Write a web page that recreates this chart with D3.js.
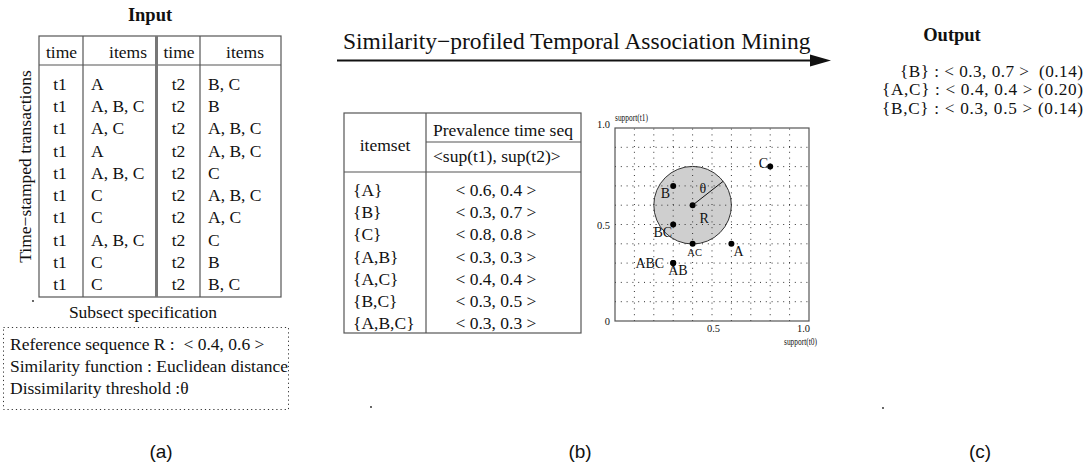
<!DOCTYPE html>
<html>
<head>
<meta charset="utf-8">
<script src="https://cdn.jsdelivr.net/npm/d3@7"></script>
<style>
  body { margin: 0; background: #fff; }
  svg text { font-family: "Liberation Serif", "Times New Roman", serif; fill: #111; white-space: pre; }
</style>
</head>
<body>
<div id="chart"></div>
<script>
// ---- data ----
var timeLabels = ["t1", "t2"];
var t1Items = ["A", "A, B, C", "A, C", "A", "A, B, C", "C", "C", "A, B, C", "C", "C"];
var t2Items = ["B, C", "B", "A, B, C", "A, B, C", "C", "A, B, C", "A, C", "C", "B", "B, C"];

var itemsets = ["{A}", "{B}", "{C}", "{A,B}", "{A,C}", "{B,C}", "{A,B,C}"];
var pointNames = ["A", "B", "C", "AB", "AC", "BC", "ABC"];
var supT1 = [0.6, 0.3, 0.8, 0.3, 0.4, 0.3, 0.3];
var supT2 = [0.4, 0.7, 0.8, 0.3, 0.4, 0.5, 0.3];

var refSeq = [0.4, 0.6];
var threshold = 0.2;

var outSets = ["{B}", "{A,C}", "{B,C}"];
var outSeq = ["< 0.3, 0.7 > ", "< 0.4, 0.4 >", "< 0.3, 0.5 >"];
var outDist = ["(0.14)", "(0.20)", "(0.14)"];

var gridTicks = [0.1, 0.2, 0.3, 0.4, 0.5, 0.6, 0.7, 0.8, 0.9];
var axisTicks = [0, 0.5, 1];
var axisTickLabels = ["0", "0.5", "1.0"];

var specLines = ["Reference sequence R :  < 0.4, 0.6 >",
                 "Similarity function : Euclidean distance",
                 "Dissimilarity threshold :\u03b8"];
var panelLabels = ["(a)", "(b)", "(c)"];

// ---- layout ----
var W = 1084, H = 466;
var svg = d3.select("#chart").append("svg")
    .attr("width", W).attr("height", H);
svg.append("rect").attr("width", W).attr("height", H).attr("fill", "#fff");

var lineCol = "#555";

// ===== (a) Input =====
svg.append("text").attr("x", 150).attr("y", 21)
  .attr("text-anchor", "middle").attr("font-size", 18.5).attr("font-weight", "bold")
  .text("Input");

var ta = { left: 39, right: 281, top: 36, head: 65, bottom: 297 };
var rowY = d3.scaleLinear().domain([0, t1Items.length - 1]).range([90, 290]);

var ga = svg.append("g");
ga.append("rect").attr("x", ta.left).attr("y", ta.top)
  .attr("width", ta.right - ta.left).attr("height", ta.bottom - ta.top)
  .attr("fill", "none").attr("stroke", lineCol).attr("stroke-width", 1.2);
ga.append("line").attr("x1", ta.left).attr("x2", ta.right).attr("y1", ta.head).attr("y2", ta.head)
  .attr("stroke", lineCol).attr("stroke-width", 1.2);
[83, 200].forEach(function(x) {
  ga.append("line").attr("x1", x).attr("x2", x).attr("y1", ta.top).attr("y2", ta.bottom)
    .attr("stroke", lineCol).attr("stroke-width", 1.2);
});
ga.append("line").attr("x1", 156.5).attr("x2", 156.5).attr("y1", ta.top).attr("y2", ta.bottom)
  .attr("stroke", "#777").attr("stroke-width", 3);

// headers
[[61.5, "time"], [128, "items"], [179, "time"], [245, "items"]].forEach(function(h) {
  ga.append("text").attr("x", h[0]).attr("y", 58).attr("text-anchor", "middle")
    .attr("font-size", 17.5).text(h[1]);
});

t1Items.forEach(function(it, i) {
  ga.append("text").attr("x", 60).attr("y", rowY(i)).attr("text-anchor", "middle")
    .attr("font-size", 17.5).text(timeLabels[0]);
  ga.append("text").attr("x", 91).attr("y", rowY(i)).attr("font-size", 17.5).text(it);
});
t2Items.forEach(function(it, i) {
  ga.append("text").attr("x", 178.5).attr("y", rowY(i)).attr("text-anchor", "middle")
    .attr("font-size", 17.5).text(timeLabels[1]);
  ga.append("text").attr("x", 208).attr("y", rowY(i)).attr("font-size", 17.5).text(it);
});

svg.append("text").attr("transform", "translate(31,166.5) rotate(-90)")
  .attr("text-anchor", "middle").attr("font-size", 17.5)
  .text("Time\u2212stamped transactions");

svg.append("circle").attr("cx", 33).attr("cy", 301).attr("r", 0.9).attr("fill", "#222");

svg.append("text").attr("x", 143).attr("y", 318).attr("text-anchor", "middle")
  .attr("font-size", 17.5).text("Subsect specification");

svg.append("rect").attr("x", 3.5).attr("y", 327.5).attr("width", 285).attr("height", 82)
  .attr("fill", "none").attr("stroke", "#333").attr("stroke-width", 1)
  .attr("stroke-dasharray", "1.2,3");
specLines.forEach(function(s, i) {
  svg.append("text").attr("x", 10).attr("y", 350 + i * 22.2).attr("font-size", 17.5).text(s);
});

// ===== (b) mining arrow =====
svg.append("text").attr("x", 343).attr("y", 49).attr("font-size", 23.5)
  .text("Similarity\u2212profiled Temporal Association Mining");
svg.append("line").attr("x1", 337).attr("x2", 814).attr("y1", 60.5).attr("y2", 60.5)
  .attr("stroke", "#111").attr("stroke-width", 2);
svg.append("path").attr("d", "M810,54.5 L831,60.5 L810,66.5 Z").attr("fill", "#111");

// itemset table
var tb = { left: 344, mid: 426, right: 581, top: 113, sub: 142, head: 172, bottom: 333 };
var gb = svg.append("g");
gb.append("rect").attr("x", tb.left).attr("y", tb.top)
  .attr("width", tb.right - tb.left).attr("height", tb.bottom - tb.top)
  .attr("fill", "none").attr("stroke", lineCol).attr("stroke-width", 1.2);
gb.append("line").attr("x1", tb.mid).attr("x2", tb.mid).attr("y1", tb.top).attr("y2", tb.bottom)
  .attr("stroke", lineCol).attr("stroke-width", 1.2);
gb.append("line").attr("x1", tb.mid).attr("x2", tb.right).attr("y1", tb.sub).attr("y2", tb.sub)
  .attr("stroke", lineCol).attr("stroke-width", 1.2);
gb.append("line").attr("x1", tb.left).attr("x2", tb.right).attr("y1", tb.head).attr("y2", tb.head)
  .attr("stroke", lineCol).attr("stroke-width", 1.2);
gb.append("text").attr("x", 385).attr("y", 151).attr("text-anchor", "middle")
  .attr("font-size", 17.5).text("itemset");
gb.append("text").attr("x", 433).attr("y", 136).attr("font-size", 17.5).text("Prevalence time seq");
gb.append("text").attr("x", 433).attr("y", 162).attr("font-size", 17.5).text("<sup(t1), sup(t2)>");

var rowB = d3.scaleLinear().domain([0, itemsets.length - 1]).range([196, 329]);
itemsets.forEach(function(s, i) {
  gb.append("text").attr("x", 353).attr("y", rowB(i)).attr("font-size", 17.5).text(s);
  gb.append("text").attr("x", 496).attr("y", rowB(i)).attr("text-anchor", "middle")
    .attr("font-size", 17.5).text("< " + supT1[i].toFixed(1) + ", " + supT2[i].toFixed(1) + " >");
});

svg.append("circle").attr("cx", 371).attr("cy", 407).attr("r", 0.9).attr("fill", "#222");

// scatter of support sequences
var x = d3.scaleLinear().domain([0, 1]).range([615, 809]);
var y = d3.scaleLinear().domain([0, 1]).range([321, 128]);
var gs = svg.append("g");

var rPix = x(threshold) - x(0);
gs.append("circle").attr("cx", x(refSeq[0])).attr("cy", y(refSeq[1])).attr("r", rPix)
  .attr("fill", "#cfcfcf").attr("stroke", "#333").attr("stroke-width", 1);

gridTicks.forEach(function(t) {
  gs.append("line").attr("x1", x(0)).attr("x2", x(1)).attr("y1", y(t)).attr("y2", y(t))
    .attr("stroke", "#333").attr("stroke-width", 1).attr("stroke-dasharray", "1,4.8");
  gs.append("line").attr("y1", y(0)).attr("y2", y(1)).attr("x1", x(t)).attr("x2", x(t))
    .attr("stroke", "#333").attr("stroke-width", 1).attr("stroke-dasharray", "1,4.8");
});
gs.append("rect").attr("x", x(0)).attr("y", y(1)).attr("width", x(1) - x(0)).attr("height", y(0) - y(1))
  .attr("fill", "none").attr("stroke", "#555").attr("stroke-width", 1.2);

// axis labels
var yTickDy = [4, 4.5, 0];
axisTicks.forEach(function(t, i) {
  gs.append("text").attr("x", 610).attr("y", y(t) + yTickDy[i]).attr("text-anchor", "end")
    .attr("font-size", 10.5).text(axisTickLabels[i]);
});
var xTickDx = [0, 1.5, -5.5];
axisTicks.slice(1).forEach(function(t, i) {
  gs.append("text").attr("x", x(t) + xTickDx[i + 1]).attr("y", 332).attr("text-anchor", "middle")
    .attr("font-size", 10.5).text(axisTickLabels[i + 1]);
});
gs.append("text").attr("x", 615).attr("y", 121).attr("font-size", 11)
  .attr("textLength", 33).attr("lengthAdjust", "spacingAndGlyphs").text("support(t1)");
gs.append("text").attr("x", 784).attr("y", 345).attr("font-size", 11)
  .attr("textLength", 33).attr("lengthAdjust", "spacingAndGlyphs").text("support(t0)");

// threshold radius
var ang = 38 * Math.PI / 180;
gs.append("line").attr("x1", x(refSeq[0])).attr("y1", y(refSeq[1]))
  .attr("x2", x(refSeq[0]) + rPix * Math.cos(ang)).attr("y2", y(refSeq[1]) - rPix * Math.sin(ang))
  .attr("stroke", "#111").attr("stroke-width", 1);

// points
var labelPos = {
  A:   { dx: 2,  dy: 12,   anchor: "start",  size: 14 },
  B:   { dx: -3, dy: 12,   anchor: "end",    size: 14 },
  C:   { dx: -2, dy: 1,    anchor: "end",    size: 14 },
  AB:  { dx: -5, dy: 12,   anchor: "start",  size: 14 },
  AC:  { dx: 2,  dy: 12,   anchor: "middle", size: 10.5 },
  BC:  { dx: -1, dy: 12.5, anchor: "end",    size: 14 },
  ABC: { dx: -9, dy: 5,    anchor: "end",    size: 14 }
};
pointNames.forEach(function(n, i) {
  gs.append("circle").attr("cx", x(supT1[i])).attr("cy", y(supT2[i])).attr("r", 3).attr("fill", "#000");
  var p = labelPos[n];
  gs.append("text").attr("x", x(supT1[i]) + p.dx).attr("y", y(supT2[i]) + p.dy)
    .attr("text-anchor", p.anchor).attr("font-size", p.size).text(n);
});
gs.append("circle").attr("cx", x(refSeq[0])).attr("cy", y(refSeq[1])).attr("r", 3).attr("fill", "#000");
gs.append("text").attr("x", x(refSeq[0]) + 7).attr("y", y(refSeq[1]) + 18).attr("font-size", 14).text("R");
gs.append("text").attr("x", x(refSeq[0]) + 7).attr("y", y(refSeq[1]) - 12).attr("font-size", 14).text("\u03b8");

// ===== (c) Output =====
svg.append("text").attr("x", 952).attr("y", 41).attr("text-anchor", "middle")
  .attr("font-size", 18.5).attr("font-weight", "bold").text("Output");
var outWidth = [183, 201, 201];
outSets.forEach(function(s, i) {
  svg.append("text").attr("x", 1083 - outWidth[i]).attr("y", 77 + i * 18.3)
    .attr("font-size", 17.2)
    .attr("textLength", outWidth[i]).attr("lengthAdjust", "spacing")
    .text(s + " : " + outSeq[i] + " " + outDist[i]);
});
svg.append("circle").attr("cx", 883).attr("cy", 408).attr("r", 0.9).attr("fill", "#222");

// panel captions
[161, 580, 980].forEach(function(cx, i) {
  svg.append("text").attr("x", cx).attr("y", 458).attr("text-anchor", "middle")
    .style("font-family", "'Liberation Sans', Arial, sans-serif")
    .attr("font-size", 19).text(panelLabels[i]);
});
</script>
</body>
</html>
